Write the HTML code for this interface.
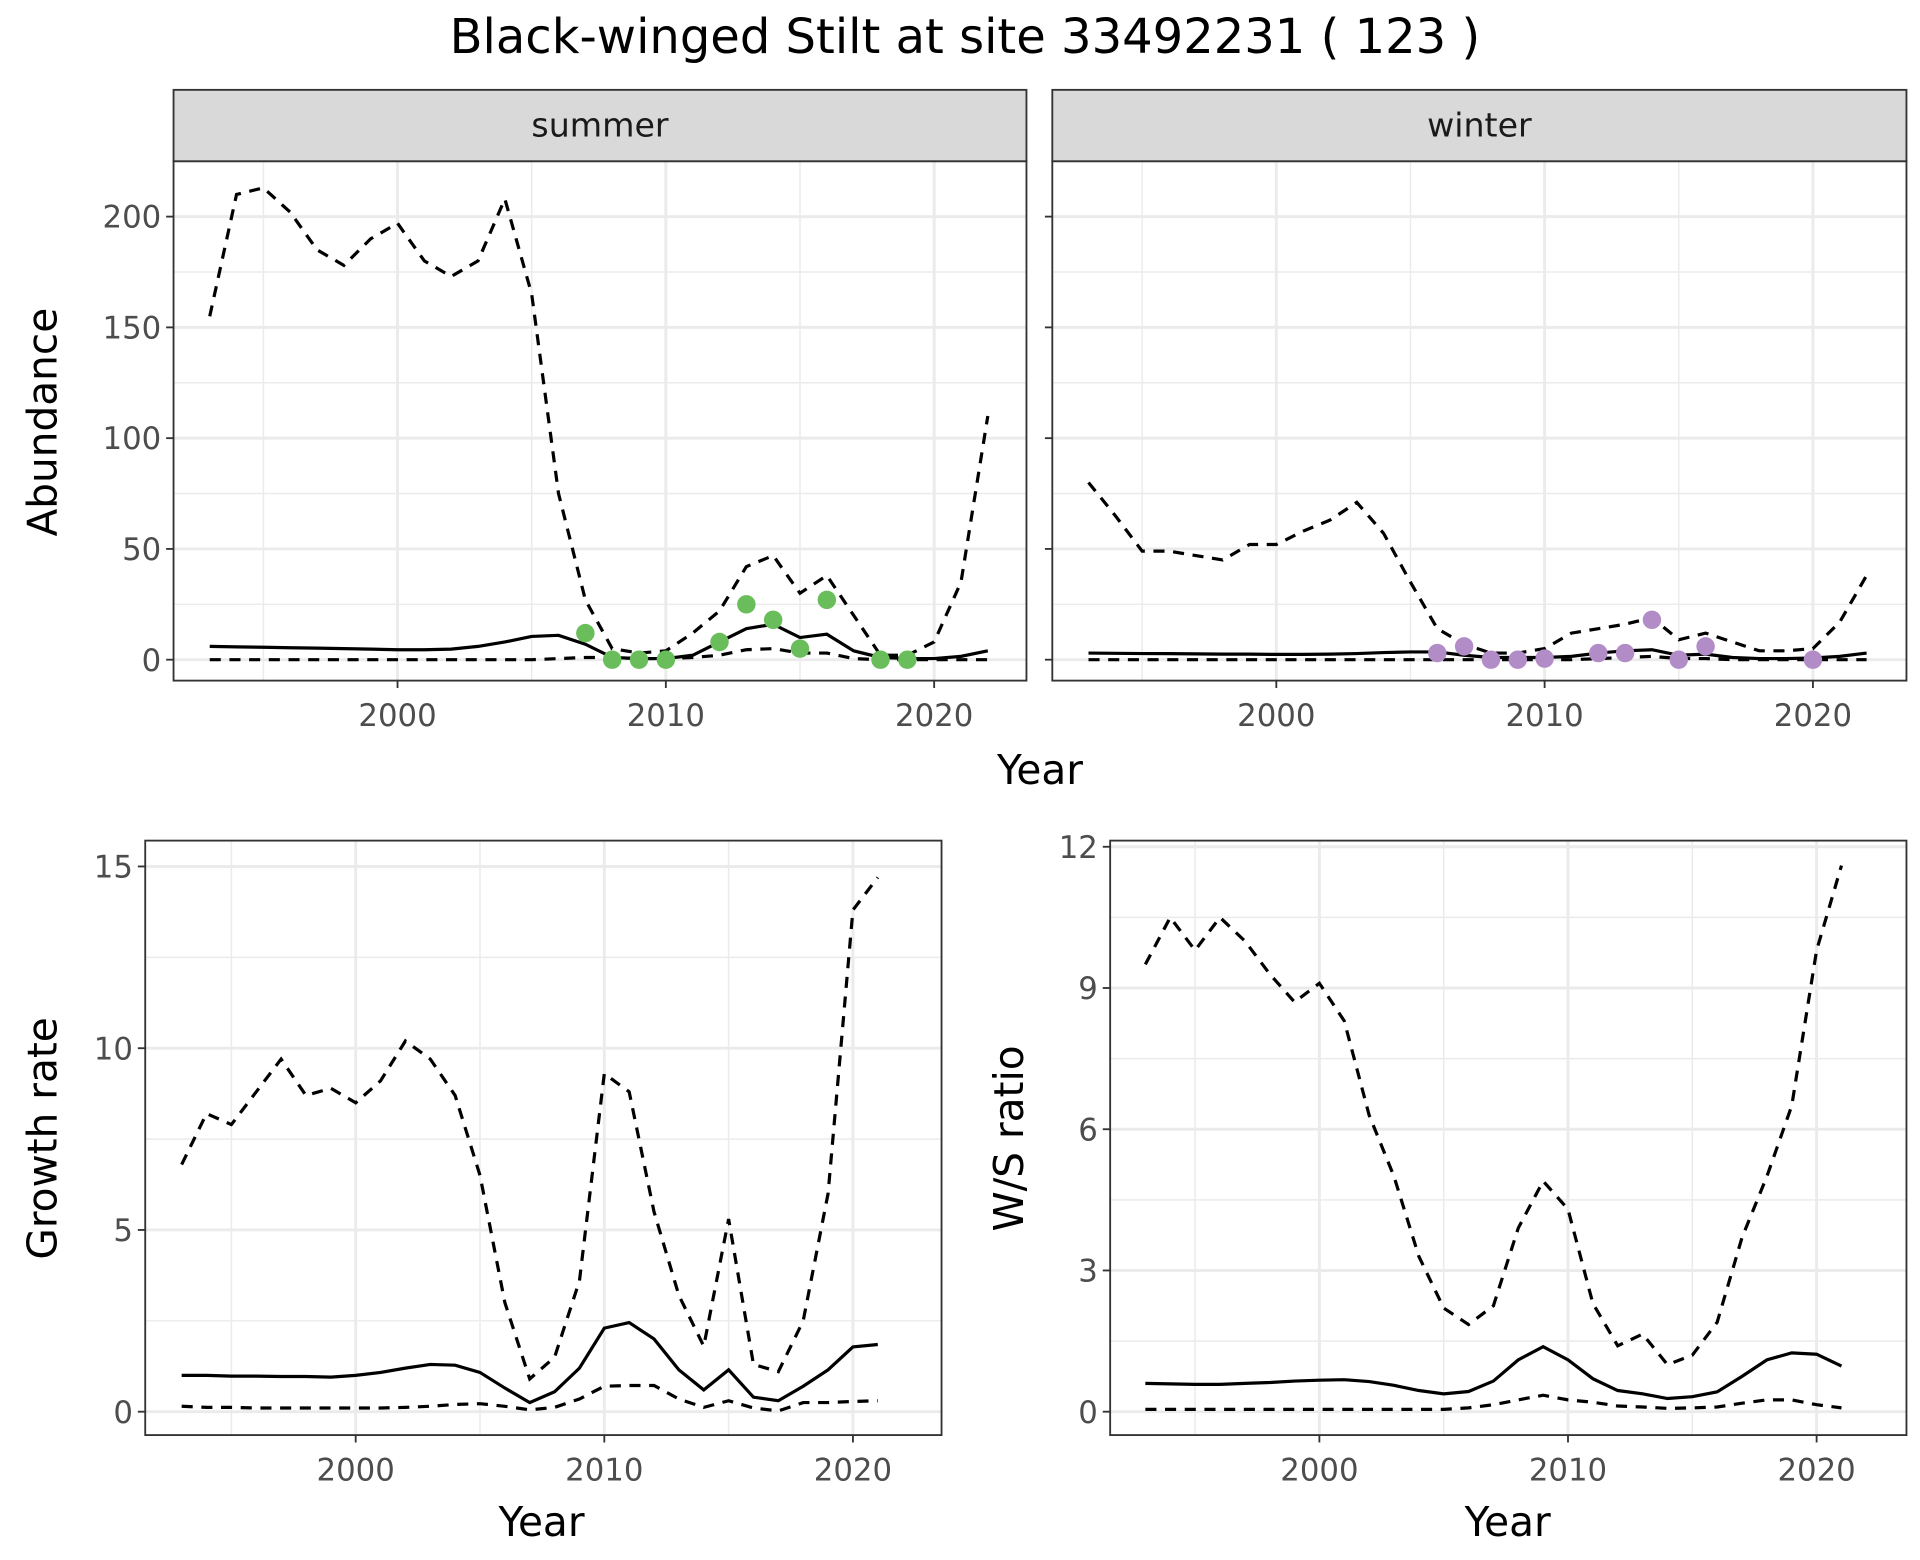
<!DOCTYPE html>
<html><head><meta charset="utf-8"><style>
html,body{margin:0;padding:0;background:#fff}
svg{display:block;font-family:"DejaVu Sans","Liberation Sans",sans-serif}
</style></head><body>
<svg id="chart" width="1920" height="1560" viewBox="0 0 1560 1267.5" xmlns="http://www.w3.org/2000/svg">
<rect width="1560" height="1267.5" fill="#fff"/>
<text x="784" y="43" font-size="39" text-anchor="middle" fill="#000">Black-winged Stilt at site 33492231 ( 123 )</text>
</svg>
<script>
const years = [1993,1994,1995,1996,1997,1998,1999,2000,2001,2002,2003,2004,2005,2006,2007,2008,2009,2010,2011,2012,2013,2014,2015,2016,2017,2018,2019,2020,2021,2022];
const summerUpper = [155,210,213,202,185,178,190,197,180,173,180,208,165,75,27,5,3,4,12,22,42,47,30,38,20,2,2,8,35,110];
const summerMean = [6,5.8,5.6,5.4,5.2,5,4.8,4.5,4.5,4.8,6,8,10.5,11,7,1,0.5,0.5,2,8,14,16,10,11.5,4,1,0.5,0.5,1.5,4];
const summerLower = [0,0,0,0,0,0,0,0,0,0,0,0,0,0.5,1,1,0.5,0.5,1,2,4.5,5,3,3,0.5,0,0,0,0,0];
const summerObsYears = [2007,2008,2009,2010,2012,2013,2014,2015,2016,2018,2019];
const summerObs = [12,0,0,0,8,25,18,5,27,0,0];
const winterUpper = [80,65,49,49,47,45,52,52,58,63,71,57,35,14,7,3,3,5,12,14,16,19,9,12,8,4,4,5,17,38];
const winterMean = [3,2.9,2.8,2.7,2.6,2.5,2.5,2.4,2.4,2.5,2.8,3.2,3.5,3.5,2,1,1,1,1.5,3,4,4.5,2,2.5,1,0.5,0.5,0.8,1.5,3];
const winterLower = [0,0,0,0,0,0,0,0,0,0,0,0,0,0,0,0,0,0,0,0.5,1,1.5,0.5,0.5,0,0,0,0,0,0];
const winterObsYears = [2006,2007,2008,2009,2010,2012,2013,2014,2015,2016,2020];
const winterObs = [3,6,0,0,0.5,3,3,18,0,6,0];
const rateYears = [1993,1994,1995,1996,1997,1998,1999,2000,2001,2002,2003,2004,2005,2006,2007,2008,2009,2010,2011,2012,2013,2014,2015,2016,2017,2018,2019,2020,2021];
const growthUpper = [6.8,8.2,7.9,8.8,9.7,8.7,8.9,8.5,9.1,10.2,9.7,8.7,6.5,3.0,0.9,1.5,3.6,9.3,8.8,5.5,3.2,1.8,5.3,1.3,1.1,2.5,6,13.8,14.7];
const growthMean = [1.0,1.0,0.98,0.98,0.97,0.97,0.95,1.0,1.08,1.2,1.3,1.28,1.08,0.65,0.25,0.55,1.2,2.3,2.45,2.0,1.15,0.6,1.15,0.4,0.3,0.7,1.15,1.78,1.85];
const growthLower = [0.15,0.12,0.12,0.1,0.1,0.1,0.1,0.1,0.1,0.12,0.15,0.2,0.22,0.15,0.05,0.12,0.35,0.7,0.72,0.72,0.35,0.12,0.3,0.1,0.02,0.25,0.25,0.28,0.3];
const ratioUpper = [9.5,10.5,9.8,10.5,10.0,9.3,8.7,9.1,8.3,6.3,5.0,3.3,2.2,1.85,2.25,3.9,4.9,4.3,2.3,1.4,1.65,1.0,1.2,1.9,3.7,5.0,6.5,9.8,11.6];
const ratioMean = [0.6,0.59,0.58,0.58,0.6,0.62,0.65,0.67,0.68,0.64,0.56,0.45,0.38,0.43,0.65,1.1,1.38,1.1,0.7,0.45,0.38,0.28,0.32,0.42,0.75,1.1,1.25,1.22,0.97];
const ratioLower = [0.05,0.05,0.05,0.05,0.05,0.05,0.05,0.05,0.05,0.05,0.05,0.05,0.05,0.08,0.15,0.25,0.35,0.25,0.2,0.12,0.1,0.07,0.08,0.1,0.18,0.25,0.25,0.15,0.08];
const yearTicks = [2000,2010,2020];
const abundTicks = [0,50,100,150,200];
const growthTicks = [0,5,10,15];
const ratioTicks = [0,3,6,9,12];

const NS = "http://www.w3.org/2000/svg";
const svg = document.getElementById('chart');
function mk(tag, attrs, parent){ const e=document.createElementNS(NS,tag); for(const k in attrs) e.setAttribute(k,attrs[k]); (parent||svg).appendChild(e); return e; }

function panel(name, box, xd, yd, yTicks, yMinor, xMinor, showY){
  const g = mk('g',{});
  
  
  const sx = v => box.x0 + (v - xd[0])/(xd[1]-xd[0])*(box.x1-box.x0);
  const sy = v => box.y1 - (v - yd[0])/(yd[1]-yd[0])*(box.y1-box.y0);
  yMinor.forEach(v=>mk('line',{x1:box.x0,x2:box.x1,y1:sy(v),y2:sy(v),stroke:'#ebebeb','stroke-width':1.2},g));
  xMinor.forEach(v=>mk('line',{x1:sx(v),x2:sx(v),y1:box.y0,y2:box.y1,stroke:'#ebebeb','stroke-width':1.2},g));
  yTicks.forEach(v=>{
    mk('line',{x1:box.x0,x2:box.x1,y1:sy(v),y2:sy(v),stroke:'#ebebeb','stroke-width':2.4},g);
    mk('line',{x1:box.x0-6,x2:box.x0,y1:sy(v),y2:sy(v),stroke:'#333','stroke-width':1.5},g);
    if(showY){ const t=mk('text',{x:box.x0-10,y:sy(v)+9,'font-size':25,'text-anchor':'end',fill:'#4d4d4d'},g); t.textContent=v;
        }
  });
  yearTicks.forEach(v=>{
    mk('line',{x1:sx(v),x2:sx(v),y1:box.y0,y2:box.y1,stroke:'#ebebeb','stroke-width':2.4},g);
    mk('line',{x1:sx(v),x2:sx(v),y1:box.y1,y2:box.y1+6,stroke:'#333','stroke-width':1.5},g);
    const t=mk('text',{x:sx(v),y:box.y1+37,'font-size':25,'text-anchor':'middle',fill:'#4d4d4d'},g); t.textContent=v;
     
  });
  return {g,sx,sy};
}
function line(p, xs, ys, dashed, name){
  const d = xs.map((x,i)=>(i?'L':'M')+p.sx(x).toFixed(1)+','+p.sy(ys[i]).toFixed(1)).join('');
  const e = mk('path',{d, fill:'none', stroke:'#000','stroke-width':2.6,'stroke-dasharray':dashed?'9,7':'none'},p.g);
  
  
}
function pts(p, xs, ys, color, name){
  xs.forEach((x,i)=>{ const c=mk('circle',{cx:p.sx(x),cy:p.sy(ys[i]),r:7.5,fill:color},p.g);
    
     });
}
function border(p, box){ mk('rect',{x:box.x0,y:box.y0,width:box.x1-box.x0,height:box.y1-box.y0,fill:'none',stroke:'#333','stroke-width':1.5},p.g); }
function strip(box,label,name){
  const r=mk('rect',{x:box.x0,y:73,width:box.x1-box.x0,height:58,fill:'#d9d9d9',stroke:'#333','stroke-width':1.5});
  
  
  const t=mk('text',{x:(box.x0+box.x1)/2,y:111,'font-size':27,'text-anchor':'middle',fill:'#1a1a1a'}); t.textContent=label;
  
  
}
function label(txt,x,y,rot,name){
  const t=mk('text',{x,y,'font-size':33,'text-anchor':'middle',fill:'#000',transform:rot?`rotate(-90 ${x} ${y})`:''}); t.textContent=txt;
  
  
}

const topYd=[(536-553)/1.8, (536-131)/1.8];
const topMinorY=[25,75,125,175,225];
const xMinTop=[1995,2005,2015];
const bS={x0:141,x1:834,y0:131,y1:553};
const xdS=[2000-(323-141)/21.8, 2000+(834-323)/21.8];
const pS=panel('summer-panel',bS,xdS,topYd,abundTicks,topMinorY,xMinTop,true);
line(pS,years,summerUpper,true,'summer-upper-line');
line(pS,years,summerMean,false,'summer-mean-line');
line(pS,years,summerLower,true,'summer-lower-line');
pts(pS,summerObsYears,summerObs,'#6abd5b','summer-observation');
border(pS,bS); strip(bS,'summer','summer-strip');

const bW={x0:855,x1:1549,y0:131,y1:553};
const xdW=[2000-(1037-855)/21.8, 2000+(1549-1037)/21.8];
const pW=panel('winter-panel',bW,xdW,topYd,abundTicks,topMinorY,xMinTop,false);
line(pW,years,winterUpper,true,'winter-upper-line');
line(pW,years,winterMean,false,'winter-mean-line');
line(pW,years,winterLower,true,'winter-lower-line');
pts(pW,winterObsYears,winterObs,'#b28cc6','winter-observation');
border(pW,bW); strip(bW,'winter','winter-strip');

const bG={x0:118,x1:765,y0:683,y1:1166};
const xdG=[2000-(289-118)/20.2, 2000+(765-289)/20.2];
const gk=(1147-704)/15;
const pG=panel('growth-panel',bG,xdG,[-(1166-1147)/gk,(1147-683)/gk],growthTicks,[2.5,7.5,12.5],xMinTop,true);
line(pG,rateYears,growthUpper,true,'growth-upper-line');
line(pG,rateYears,growthMean,false,'growth-mean-line');
line(pG,rateYears,growthLower,true,'growth-lower-line');
border(pG,bG);

const bR={x0:902,x1:1549,y0:683,y1:1166};
const xdR=[2000-(1072-902)/20.2, 2000+(1549-1072)/20.2];
const rk=(1147-688)/12;
const pR=panel('ratio-panel',bR,xdR,[-(1166-1147)/rk,(1147-683)/rk],ratioTicks,[1.5,4.5,7.5,10.5],xMinTop,true);
line(pR,rateYears,ratioUpper,true,'ratio-upper-line');
line(pR,rateYears,ratioMean,false,'ratio-mean-line');
line(pR,rateYears,ratioLower,true,'ratio-lower-line');
border(pR,bR);

label('Abundance',46,343,true,'abundance-axis-title');
label('Year',845,637,false,'top-x-axis-title');
label('Growth rate',46,925,true,'growth-axis-title');
label('W/S ratio',831,925,true,'ratio-axis-title');
label('Year',440,1248,false,'growth-x-axis-title');
label('Year',1225,1248,false,'ratio-x-axis-title');
</script>
</body></html>
